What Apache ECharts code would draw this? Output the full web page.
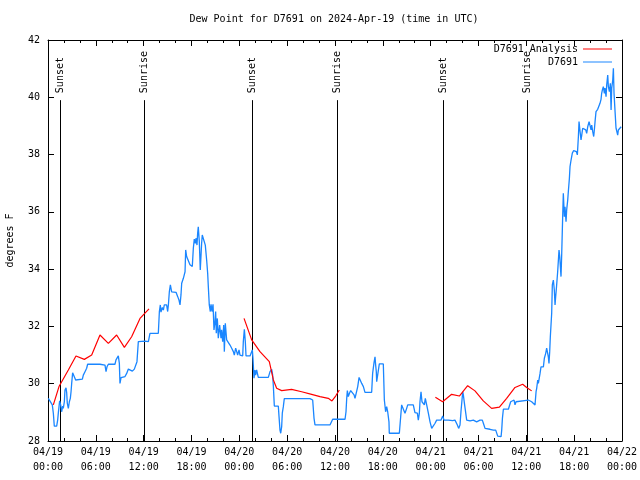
<!DOCTYPE html>
<html>
<head>
<meta charset="utf-8">
<script src="https://cdn.jsdelivr.net/npm/echarts@6/dist/echarts.min.js"></script>
<style>html,body{margin:0;padding:0;background:#fff}#c{width:640px;height:480px}</style>
</head>
<body>
<div id="c"></div>
<script>
// Hours since 2024-04-19 00:00 UTC
var xTickLabels = ['04/19\n00:00','04/19\n06:00','04/19\n12:00','04/19\n18:00','04/20\n00:00','04/20\n06:00','04/20\n12:00','04/20\n18:00','04/21\n00:00','04/21\n06:00','04/21\n12:00','04/21\n18:00','04/22\n00:00'];
var sunTimes = [1.5, 12.1, 25.55, 36.2, 49.6, 60.13];
var sunLabels = ['Sunset','Sunrise','Sunset','Sunrise','Sunset','Sunrise'];

var obsSeries = [
[0.04,29.49],[0.54,29.26],[0.67,28.97],[0.79,28.52],[1.09,28.52],[1.21,28.73],[1.30,28.99],[1.46,29.40],[1.59,29.26],[1.71,29.02],[1.84,29.22],[1.92,29.14],[2.05,29.37],[2.13,29.78],[2.26,29.86],[2.34,29.70],[2.42,29.32],[2.55,29.14],[2.68,29.37],[2.80,29.49],[2.89,29.72],[2.97,30.01],[3.09,30.38],[3.30,30.38],[3.47,30.13],[3.60,30.16],[4.31,30.16],[4.43,30.30],[4.64,30.42],[4.85,30.54],[4.97,30.68],[6.52,30.68],[6.73,30.65],[7.15,30.65],[7.28,30.42],[7.40,30.59],[7.57,30.68],[8.40,30.68],[8.53,30.83],[8.66,30.86],[8.82,30.97],[8.95,30.71],[9.03,30.01],[9.16,30.21],[9.33,30.21],[9.66,30.25],[9.87,30.36],[10.08,30.51],[10.29,30.51],[10.58,30.44],[10.83,30.51],[11.08,30.51],[11.16,30.77],[11.33,31.47],[12.17,31.49],[12.59,31.47],[12.79,31.76],[13.84,31.76],
[13.97,32.52],[14.09,32.75],[14.17,32.50],[14.34,32.66],[14.47,32.57],[14.59,32.75],[14.88,32.75],[15.01,32.52],[15.10,32.75],[15.22,33.21],[15.35,33.45],[15.51,33.21],[16.06,33.19],[16.27,33.04],[16.43,32.92],[16.56,32.75],[16.68,33.10],[16.77,33.51],[16.98,33.68],[17.19,33.91],[17.27,34.67],[17.39,34.44],[17.52,34.49],[17.60,34.38],[17.81,34.15],[18.10,34.09],[18.23,34.73],[18.35,35.05],[18.48,34.90],[18.56,35.08],[18.69,34.84],[18.77,35.25],[18.85,35.48],[18.98,34.96],[19.10,33.97],[19.27,34.90],[19.35,35.19],[19.60,35.19],[19.73,34.84],[19.90,34.32],[20.03,33.85],[20.11,33.39],[20.23,32.75],[20.36,32.52],[20.45,32.77],[20.57,32.52],[20.70,32.77],[20.82,31.88],[20.95,32.17],[21.03,32.52],[21.11,31.76],[21.24,32.28],[21.36,31.59],[21.53,32.05],[21.70,31.59],[21.78,31.88],[21.91,31.47],[22.04,32.05],[22.12,31.12],[22.24,32.11],[22.41,31.53],[22.62,31.47],[22.83,31.35],[23.04,31.24],[23.25,31.12],[23.37,31.00],[23.54,31.24],[23.67,31.12],[23.79,31.00],[23.96,31.18],[24.08,31.00],
[24.42,30.97],[24.50,31.47],[24.63,31.90],[24.75,31.47],[24.84,30.97],[25.34,30.97],[25.55,31.00],[25.63,31.18],[25.71,30.89],[25.84,30.19],[25.96,30.48],[26.05,30.30],[26.17,30.48],[26.38,30.22],[27.64,30.22],[27.85,30.42],[28.06,30.50],[28.18,30.30],[28.27,29.90],[28.39,29.22],[28.89,29.22],[28.98,28.85],[29.10,28.38],[29.19,28.27],[29.31,28.50],[29.39,28.97],[29.52,29.20],[29.64,29.48],[32.86,29.48],[33.07,29.43],[33.20,29.43],[33.37,28.79],[33.49,28.56],[35.37,28.56],[35.50,28.62],[35.71,28.76],[36.21,28.76],[36.42,28.77],[37.26,28.76],
[37.38,29.02],[37.47,29.49],[37.55,29.76],[37.67,29.55],[37.80,29.66],[37.97,29.76],[38.22,29.76],[38.39,29.61],[38.51,29.49],[38.72,29.49],[38.85,29.90],[39.02,30.22],[39.27,30.19],[39.35,30.01],[39.56,29.90],[39.76,29.70],[40.60,29.70],[40.72,30.36],[40.89,30.73],[41.02,30.94],[41.10,30.65],[41.18,30.42],[41.23,30.07],[41.43,30.07],[41.56,30.69],[42.06,30.69],[42.19,29.43],[42.35,29.02],[42.48,29.20],[42.61,29.02],[42.77,28.67],[42.81,28.27],[44.07,28.27],[44.24,28.85],[44.36,29.26],[44.57,29.26],[44.78,28.97],[44.99,29.14],[45.12,29.26],[45.82,29.26],[46.03,28.99],[46.33,28.97],[46.45,28.73],[46.58,28.97],[46.66,29.37],[46.79,29.72],[46.91,29.37],[47.08,29.43],[47.21,29.26],[47.33,29.49],[47.50,29.26],[47.71,28.97],[47.92,28.67],[48.13,28.44],[48.33,28.44],[48.55,28.62],[48.75,28.73],[49.30,28.73],[49.51,28.87],[49.68,28.73],
[50.22,28.73],[50.43,28.67],[50.76,28.71],[51.05,28.73],[51.18,28.67],[51.35,28.56],[51.51,28.44],[51.60,28.38],[51.68,28.56],[51.80,29.02],[51.93,29.43],[52.02,29.72],[52.10,29.61],[52.23,29.32],[52.35,29.08],[52.52,28.73],[52.94,28.70],[53.35,28.73],[53.77,28.67],[54.19,28.73],[54.48,28.73],[54.61,28.62],[54.82,28.44],[55.44,28.41],[55.86,28.38],[55.99,28.44],[56.16,28.38],[56.28,28.33],[56.41,28.17],[56.49,28.15],[56.83,28.15],[56.91,28.38],[57.00,28.79],[57.12,29.11],[57.75,29.11],[57.87,29.22],[58.04,29.37],[58.16,29.43],[58.29,29.32],[58.46,29.43],[58.58,29.26],[58.71,29.37],[58.87,29.43],[60.25,29.43],[60.46,29.43],[60.67,29.37],[60.88,29.43],[61.09,29.26],[61.22,29.72],
[61.30,29.84],[61.43,30.13],[61.51,30.01],[61.63,30.07],[61.72,30.36],[61.84,30.59],[62.14,30.59],[62.26,30.89],[62.43,31.06],[62.55,31.24],[62.68,31.29],[62.76,30.94],[62.84,30.71],[62.93,31.12],[63.01,31.64],[63.18,32.46],[63.26,33.45],[63.39,33.62],[63.51,33.27],[63.60,32.75],[63.68,33.04],[63.77,33.33],[63.85,33.27],[63.93,33.91],[64.02,33.91],[64.10,34.67],[64.19,34.44],[64.27,34.38],[64.35,33.74],[64.44,34.55],[64.52,34.55],[64.57,35.95],[64.64,36.65],[64.77,35.83],[64.85,36.18],[64.98,35.66],[65.06,36.07],[65.19,36.41],[65.27,36.71],[65.40,37.17],[65.48,37.58],[65.61,37.81],[65.77,38.05],[65.94,38.14],[66.11,38.10],[66.28,38.10],[66.40,37.99],[66.53,38.63],[66.61,39.15],[66.74,38.80],[66.86,38.51],[66.95,38.68],[67.07,38.92],[67.20,38.86],[67.32,38.97],[67.45,38.86],[67.57,38.74],[67.70,38.97],[67.87,39.15],[68.03,39.09],[68.12,38.86],[68.20,39.03],[68.33,38.80],[68.45,38.63],[68.53,38.86],[68.62,39.15],[68.74,39.50],[68.95,39.58],[69.16,39.58],[69.24,39.79],[69.37,39.93],[69.45,40.14],[69.54,40.26],[69.66,40.37],[69.79,40.14],[69.87,40.32],[70.00,40.02],[70.08,40.43],[70.21,40.78],[70.29,40.37],[70.42,40.20],[70.54,40.49],[70.63,39.56],[70.71,40.32],[70.84,40.60],[70.92,41.01],[71.00,40.14],[71.13,39.50],[71.25,38.92],[71.34,38.86],[71.46,38.68],[71.54,38.86],[71.67,38.92],[71.90,38.97]
];

var analysisSeries = [
[0.67,29.26],[1.38,29.90],[2.55,30.48],[3.51,30.97],[4.56,30.85],[5.48,31.00],[6.52,31.70],[7.57,31.41],[8.61,31.70],[9.58,31.27],[10.49,31.64],[11.54,32.28],[12.67,32.61],
[18.0,'-'],
[24.59,32.28],[25.55,31.53],[26.59,31.12],[27.76,30.77],[28.27,30.13],[28.68,29.84],[29.31,29.76],[30.56,29.80],[31.82,29.72],[33.07,29.63],[34.12,29.55],[35.16,29.49],[35.62,29.40],[36.08,29.57],[36.54,29.78],
[42.0,'-'],
[48.59,29.53],[49.50,29.37],[50.63,29.63],[51.60,29.57],[52.64,29.93],[53.56,29.75],[54.60,29.40],[55.65,29.14],[56.62,29.18],[57.53,29.49],[58.58,29.87],[59.54,29.98],[60.04,29.87],[60.67,29.75]
];

var FONT = 'DejaVu Sans Mono';
var chart = echarts.init(document.getElementById('c'), null, {renderer: 'canvas'});
var axisCommon = {
  type: 'value', min: 0, max: 72, interval: 6,
  axisLine: {show: true, onZero: false, lineStyle: {color: '#000', width: 1}},
  axisTick: {show: true, inside: true, length: 6, lineStyle: {color: '#000'}},
  minorTick: {show: true, splitNumber: 3, length: 3, lineStyle: {color: '#000'}},
  splitLine: {show: false}
};
var lineTopValue = 39.9;
chart.setOption({
  animation: false,
  backgroundColor: '#fff',
  title: {
    text: 'Dew Point for D7691 on 2024-Apr-19 (time in UTC)',
    left: 334, top: 14, textAlign: 'center', padding: 0,
    textStyle: {fontFamily: FONT, fontSize: 10, fontWeight: 'normal', color: '#000'}
  },
  legend: [
    {data: ['D7691 Analysis'], right: 28, top: 44, orient: 'vertical', align: 'right', padding: 0,
     icon: 'rect', itemWidth: 29, itemHeight: 1, textStyle: {fontFamily: FONT, fontSize: 10, color: '#000'}},
    {data: ['D7691'], right: 28, top: 57, orient: 'vertical', align: 'right', padding: 0,
     icon: 'rect', itemWidth: 29, itemHeight: 1, textStyle: {fontFamily: FONT, fontSize: 10, color: '#000'}}
  ],
  grid: {left: 48, right: 18, top: 40, bottom: 39, containLabel: false, outerBoundsMode: 'none'},
  xAxis: [
    Object.assign({}, axisCommon, {
      position: 'bottom',
      axisLabel: {show: true, margin: 4, fontFamily: FONT, fontSize: 10, color: '#000', lineHeight: 15,
        formatter: function (v) { return xTickLabels[Math.round(v / 6)]; }}
    }),
    Object.assign({}, axisCommon, {position: 'top', axisLabel: {show: false}})
  ],
  yAxis: [
    {type: 'value', min: 28, max: 42, interval: 2, position: 'left',
     name: 'degrees F', nameLocation: 'middle', nameGap: 33, nameRotate: 90,
     nameTextStyle: {fontFamily: FONT, fontSize: 10, color: '#000'},
     axisLine: {show: true, onZero: false, lineStyle: {color: '#000'}},
     axisTick: {show: true, inside: true, length: 6, lineStyle: {color: '#000'}},
     axisLabel: {margin: 8, fontFamily: FONT, fontSize: 10, color: '#000'},
     splitLine: {show: false}},
    {type: 'value', min: 28, max: 42, interval: 2, position: 'right',
     axisLine: {show: true, onZero: false, lineStyle: {color: '#000'}},
     axisTick: {show: true, inside: true, length: 6, lineStyle: {color: '#000'}},
     axisLabel: {show: false}, splitLine: {show: false}}
  ],
  series: [
    {
      type: 'custom', name: 'sun', silent: true, z: 1,
      data: sunTimes.map(function (t) { return [t, 28]; }),
      renderItem: function (params, api) {
        var x = api.value(0);
        var p0 = api.coord([x, 28]);
        var p1 = api.coord([x, lineTopValue]);
        return {
          type: 'group',
          children: [
            {type: 'line', shape: {x1: Math.round(p0[0]) + 0.5, y1: p0[1], x2: Math.round(p0[0]) + 0.5, y2: p1[1]},
             style: {stroke: '#000', lineWidth: 1}},
            {type: 'text', x: Math.round(p0[0]) + 0.5, y: p1[1] - 7, rotation: Math.PI / 2,
             style: {text: sunLabels[params.dataIndex], x: 0, y: 0, align: 'left', verticalAlign: 'middle',
                     fontFamily: FONT, fontSize: 10, fill: '#000'}}
          ]
        };
      }
    },
    {
      type: 'line', name: 'D7691 Analysis', data: analysisSeries, showSymbol: false, connectNulls: false,
      color: '#ff0000', lineStyle: {color: '#ff0000', width: 1.2}, z: 3
    },
    {
      type: 'line', name: 'D7691', data: obsSeries, showSymbol: false,
      color: '#1a86ff', lineStyle: {color: '#1a86ff', width: 1.3}, z: 2
    }
  ]
});
</script>
</body>
</html>
